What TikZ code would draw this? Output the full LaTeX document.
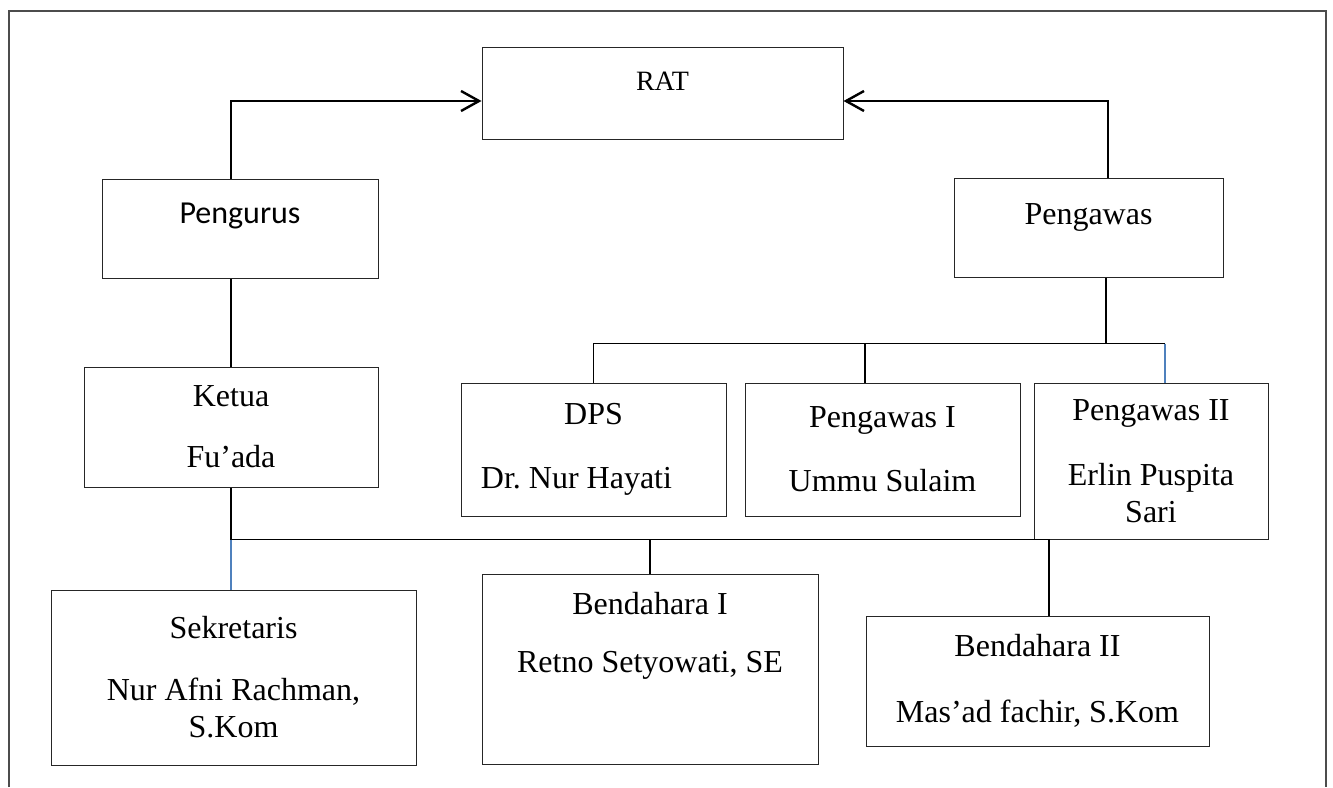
\documentclass[tikz,border=0pt]{standalone}
\usepackage{fontspec}
\setmainfont{Liberation Serif}
\newfontfamily\calibri{Carlito}
\usetikzlibrary{arrows.meta}
\definecolor{wordblue}{RGB}{79,129,189}
\tikzset{
  box/.style={draw=black!85, line width=0.5pt, align=center, inner sep=0pt,
    font=\fontsize{16}{18.5}\selectfont},
  link/.style={line width=0.8pt},
  bluelink/.style={line width=0.8pt, draw=wordblue},
  arr/.style={line width=1.2pt, -{Straight Barb[length=9pt,width=10pt,line width=1.2pt]}},
  frame/.style={line width=0.7pt, draw=black!70}
}

\begin{document}
\begin{tikzpicture}[x=0.5pt,y=-0.5pt]

\useasboundingbox (0,0) rectangle (1333,787);
\draw[frame] (9,787) -- (9,11) -- (1326,11) -- (1326,787);

% top level
\node[box, minimum width=180.5pt, text height=21.5pt, text depth=24.5pt,
  font=\fontsize{14}{16.5}\selectfont] (rat) at (662.5,93) {RAT};
\node[box, minimum width=138pt, text height=22pt, text depth=27.5pt,
  font=\calibri\fontsize{16}{18.5}\selectfont] (pengurus) at (240,228.5) {Pengurus};
\node[box, minimum width=134.5pt, text height=23pt, text depth=26.5pt] (pengawas) at (1088.5,227.5) {Pengawas};

% second level
\node[box, minimum width=147pt, minimum height=60pt] (ketua) at (231,427) {Ketua\\[12pt]Fu’ada};
\node[box, minimum width=132.5pt, minimum height=66.5pt] (dps) at (593.5,449.5) {DPS\\[13.5pt]Dr.\ Nur Hayati\hspace*{17pt}};
\node[box, minimum width=137.5pt, minimum height=66.5pt] (pengawas1) at (882.5,449.5) {Pengawas I\\[13.5pt]Ummu Sulaim};
\node[box, minimum width=117pt, minimum height=78pt] (pengawas2) at (1151,461) {Pengawas II\\[14pt]Erlin Puspita\\Sari};

% third level
\node[box, minimum width=182.5pt, minimum height=87.5pt] (sekretaris) at (233.5,677.5) {Sekretaris\\[12.5pt]Nur Afni Rachman,\\S.Kom};
\node[box, minimum width=168pt, minimum height=95pt] (bendahara1) at (650,669) {Bendahara I\\[10.5pt]Retno Setyowati, SE\\[18.5pt]\mbox{}};
\node[box, minimum width=171.5pt, minimum height=65pt] (bendahara2) at (1037.5,681) {Bendahara II\\[14.5pt]Mas’ad fachir, S.Kom};

% arrows to RAT
\draw[arr] (ketua.center |- pengurus.north) |- ([yshift=-4pt]rat.west);
\draw[arr] ([xshift=9.75pt]pengawas.north) |- ([yshift=-4pt]rat.east);

% pengawas branch
\draw[link] ([xshift=8.75pt]pengawas.south) -- ++(0,66) coordinate (pwbus);
\draw[link] (dps.north) |- ([xshift=7pt]pengawas2.north |- pwbus) coordinate (pw2bus);
\draw[link] ([xshift=-8.75pt]pengawas1.north) -- ([xshift=-8.75pt]pengawas1.north |- pwbus);
\draw[bluelink] (pw2bus) -- ([xshift=7pt]pengawas2.north);

% pengurus branch
\draw[link] (ketua.center |- pengurus.south) -- (ketua.north);
\draw[link] (ketua.south) -- ++(0,52) coordinate (kbus);
\draw[link] (kbus) -- ([xshift=5.75pt]bendahara2.north |- kbus) -- ([xshift=5.75pt]bendahara2.north);
\draw[link] (bendahara1.north) -- (bendahara1.north |- kbus);
\draw[bluelink] (kbus) -- (kbus |- sekretaris.north);

\end{tikzpicture}
\end{document}
